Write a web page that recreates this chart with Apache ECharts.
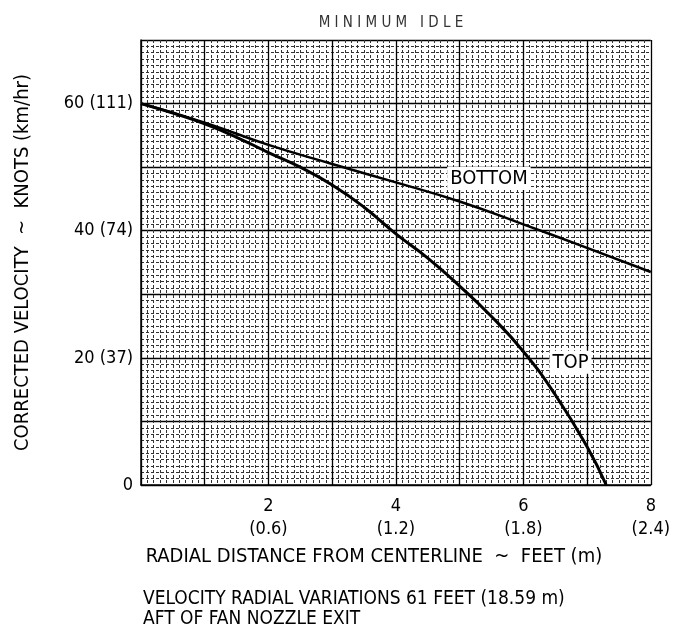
<!DOCTYPE html>
<html><head><meta charset="utf-8">
<script src="https://cdn.jsdelivr.net/npm/echarts@6/dist/echarts.min.js"></script>
<style>html,body{margin:0;padding:0;background:#fff}#c{width:673px;height:640px}</style>
</head><body><div id="c"></div>
<script>
var bottomX = [0, 1, 2, 3, 4, 5, 6, 7, 8];
var bottomY = [60, 57, 53.5, 50.5, 47.6, 44.6, 41, 37.3, 33.5];
var topX = [0, 0.5, 1, 1.5, 2, 2.5, 3, 3.5, 4, 4.5, 5, 5.5, 6, 6.5, 7, 7.3];
var topY = [60, 58.5, 56.8, 54.7, 52.3, 50, 47.2, 43.7, 39.5, 35.7, 31.3, 26.5, 21, 14.2, 6, 0];
var xTickLabels = {2: '2\n(0.6)', 4: '4\n(1.2)', 6: '6\n(1.8)', 8: '8\n(2.4)'};
var yTickLabels = {0: '0', 20: '20 (37)', 40: '40 (74)', 60: '60 (111)'};
var labelBottom = {name: 'BOTTOM', coord: [5.46, 48.2]};
var labelTop = {name: 'TOP', coord: [6.74, 19.3]};

var FONT = '"DejaVu Sans Condensed", "DejaVu Sans", sans-serif';
function zip(xs, ys) { return xs.map(function (x, i) { return [x, ys[i]]; }); }
function lbl(item) {
  return {
    coord: item.coord, symbolSize: 0, value: item.name,
    label: {show: true, formatter: item.name, position: 'inside', color: '#000',
      fontFamily: FONT, fontSize: 20, backgroundColor: '#fff', padding: [2, 3, 1, 3]}
  };
}
var chart = echarts.init(document.getElementById('c'));
var minor = {show: true, lineStyle: {color: '#333', width: 1, type: [3, 2]}};
chart.setOption({
  animation: false,
  title: {text: 'M I N I M U M   I D L E', left: 386, top: 11, textAlign: 'center',
    textStyle: {fontFamily: FONT, fontWeight: 'normal', fontSize: 15, color: '#333'}},
  graphic: [
    {type: 'text', left: 143, top: 589, style: {text: 'VELOCITY RADIAL VARIATIONS 61 FEET (18.59 m)\nAFT OF FAN NOZZLE EXIT',
      font: '19px ' + FONT, fill: '#000', lineHeight: 20}}
  ],
  grid: {left: 141, right: 22, top: 40, bottom: 155},
  xAxis: {
    type: 'value', min: 0, max: 8, interval: 1,
    name: 'RADIAL DISTANCE FROM CENTERLINE  ~  FEET (m)', nameLocation: 'middle', nameGap: 62,
    nameTextStyle: {fontFamily: FONT, fontSize: 20, color: '#000', padding: [0, 44, 0, 0]},
    axisLine: {lineStyle: {color: '#000', width: 1.5}},
    axisTick: {show: false},
    axisLabel: {fontFamily: FONT, fontSize: 18, color: '#000', margin: 10, lineHeight: 23,
      formatter: function (v) { return xTickLabels[v] || ''; }},
    splitLine: {show: true, lineStyle: {color: '#000', width: 1.3}},
    minorTick: {show: false, splitNumber: 10},
    minorSplitLine: minor
  },
  yAxis: {
    type: 'value', min: 0, max: 70, interval: 10,
    name: 'CORRECTED VELOCITY  ~  KNOTS (km/hr)', nameLocation: 'middle', nameGap: 108,
    nameTextStyle: {fontFamily: FONT, fontSize: 20, color: '#000'},
    axisLine: {show: true, lineStyle: {color: '#000', width: 1.5}},
    axisTick: {show: false},
    axisLabel: {fontFamily: FONT, fontSize: 18, color: '#000', margin: 8,
      formatter: function (v) { return yTickLabels[v] || ''; }},
    splitLine: {show: true, lineStyle: {color: '#000', width: 1.3}},
    minorTick: {show: false, splitNumber: 10},
    minorSplitLine: minor
  },
  series: [
    {type: 'line', name: 'BOTTOM', data: zip(bottomX, bottomY), smooth: true, symbol: 'none',
      lineStyle: {color: '#000', width: 2.5}, z: 5,
      markPoint: {symbol: 'circle', data: [lbl(labelBottom)]}},
    {type: 'line', name: 'TOP', data: zip(topX, topY), smooth: true, symbol: 'none',
      lineStyle: {color: '#000', width: 3}, z: 5,
      markPoint: {symbol: 'circle', data: [lbl(labelTop)]}}
  ]
});
</script></body></html>
